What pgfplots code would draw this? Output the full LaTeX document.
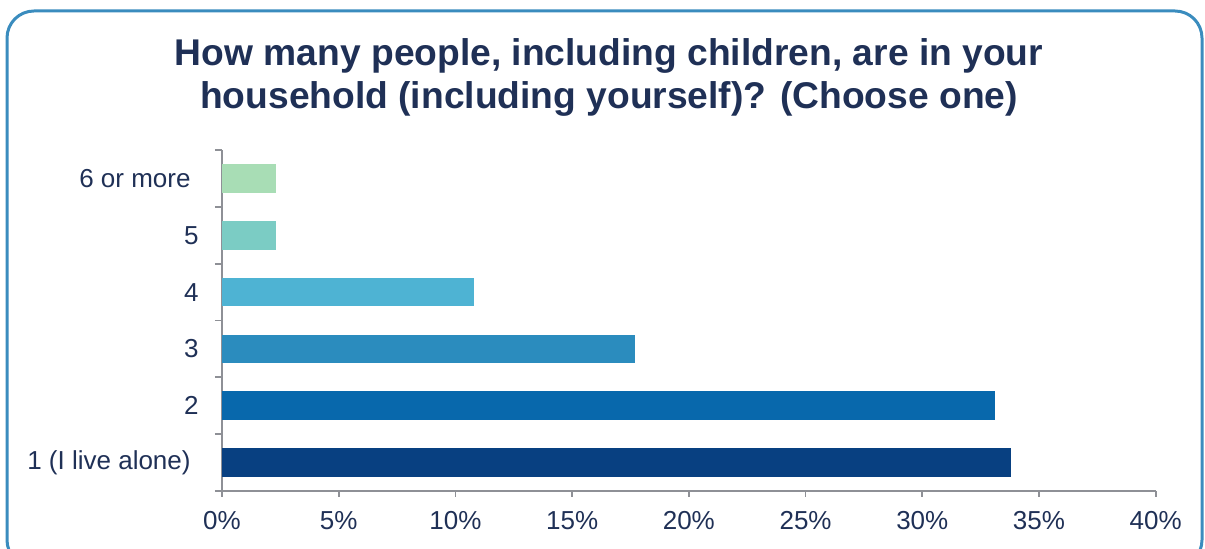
\documentclass[border=0pt]{standalone}
\usepackage{pgfplots}
\pgfplotsset{compat=1.18}
\usepackage{fontspec}
\setmainfont{Liberation Sans}
\definecolor{navy}{RGB}{31,48,86}
\definecolor{framec}{RGB}{58,140,190}
\definecolor{axgray}{RGB}{142,144,150}
\definecolor{cA}{RGB}{8,64,129}
\definecolor{cB}{RGB}{8,104,172}
\definecolor{cC}{RGB}{43,140,190}
\definecolor{cD}{RGB}{78,179,211}
\definecolor{cE}{RGB}{123,204,196}
\definecolor{cF}{RGB}{168,221,181}
\begin{document}
\begin{tikzpicture}
\useasboundingbox (0pt,0pt) rectangle (602.5pt,274.5pt);
\begin{scope}
\clip (0pt,0pt) rectangle (602.5pt,274.5pt);
\draw[line width=1.5pt, draw=framec, rounded corners=13.5pt] (3.5pt,269pt) rectangle (601pt,-9pt);
\end{scope}
\node[anchor=base, font=\fontsize{18.6}{22}\selectfont\bfseries, text=navy, inner sep=0pt] at (304.5pt,241.65pt) {How many people, including children, are in your};
\node[anchor=base, font=\fontsize{18.6}{22}\selectfont\bfseries, text=navy, inner sep=0pt] at (304.5pt,220.35pt) {household (including yourself)? (Choose one)};
\begin{axis}[
  at={(111pt,29pt)}, anchor=south west, scale only axis,
  width=466.85pt, height=170.5pt,
  xmin=0, xmax=40, ymin=-0.5, ymax=5.5,
  axis x line=bottom, axis y line=left,
  axis line style={-, draw=axgray, line width=0.9pt},
  xtick={0,5,...,40},
  xticklabel={\pgfmathprintnumber{\tick}\%},
  /pgf/number format/assume math mode=true,
  ytick={0,1,2,3,4,5},
  yticklabels={1 (I live alone)\rule{4pt}{0pt},2,3,4,5,6 or more\rule{4pt}{0pt}},
  minor ytick={-0.5,0.5,1.5,2.5,3.5,4.5,5.5},
  tick align=outside,
  major tick length=3pt,
  minor tick length=3.5pt,
  tick style={draw=axgray, line width=0.9pt},
  every major y tick/.append style={draw=none},
  every minor y tick/.append style={draw=axgray, line width=0.9pt},
  ticklabel style={font=\fontsize{13}{15}\selectfont, text=navy},
  yticklabel style={anchor=east, inner sep=0pt, xshift=-8.5pt},
  xticklabel style={anchor=base, inner sep=0pt, yshift=-16.5pt},
  xbar, bar width=14.35pt,
]
\addplot[bar shift=0pt, fill=cA, draw=none] coordinates {(33.8,0)};
\addplot[bar shift=0pt, fill=cB, draw=none] coordinates {(33.1,1)};
\addplot[bar shift=0pt, fill=cC, draw=none] coordinates {(17.7,2)};
\addplot[bar shift=0pt, fill=cD, draw=none] coordinates {(10.8,3)};
\addplot[bar shift=0pt, fill=cE, draw=none] coordinates {(2.3,4)};
\addplot[bar shift=0pt, fill=cF, draw=none] coordinates {(2.3,5)};
\end{axis}
\end{tikzpicture}
\end{document}
